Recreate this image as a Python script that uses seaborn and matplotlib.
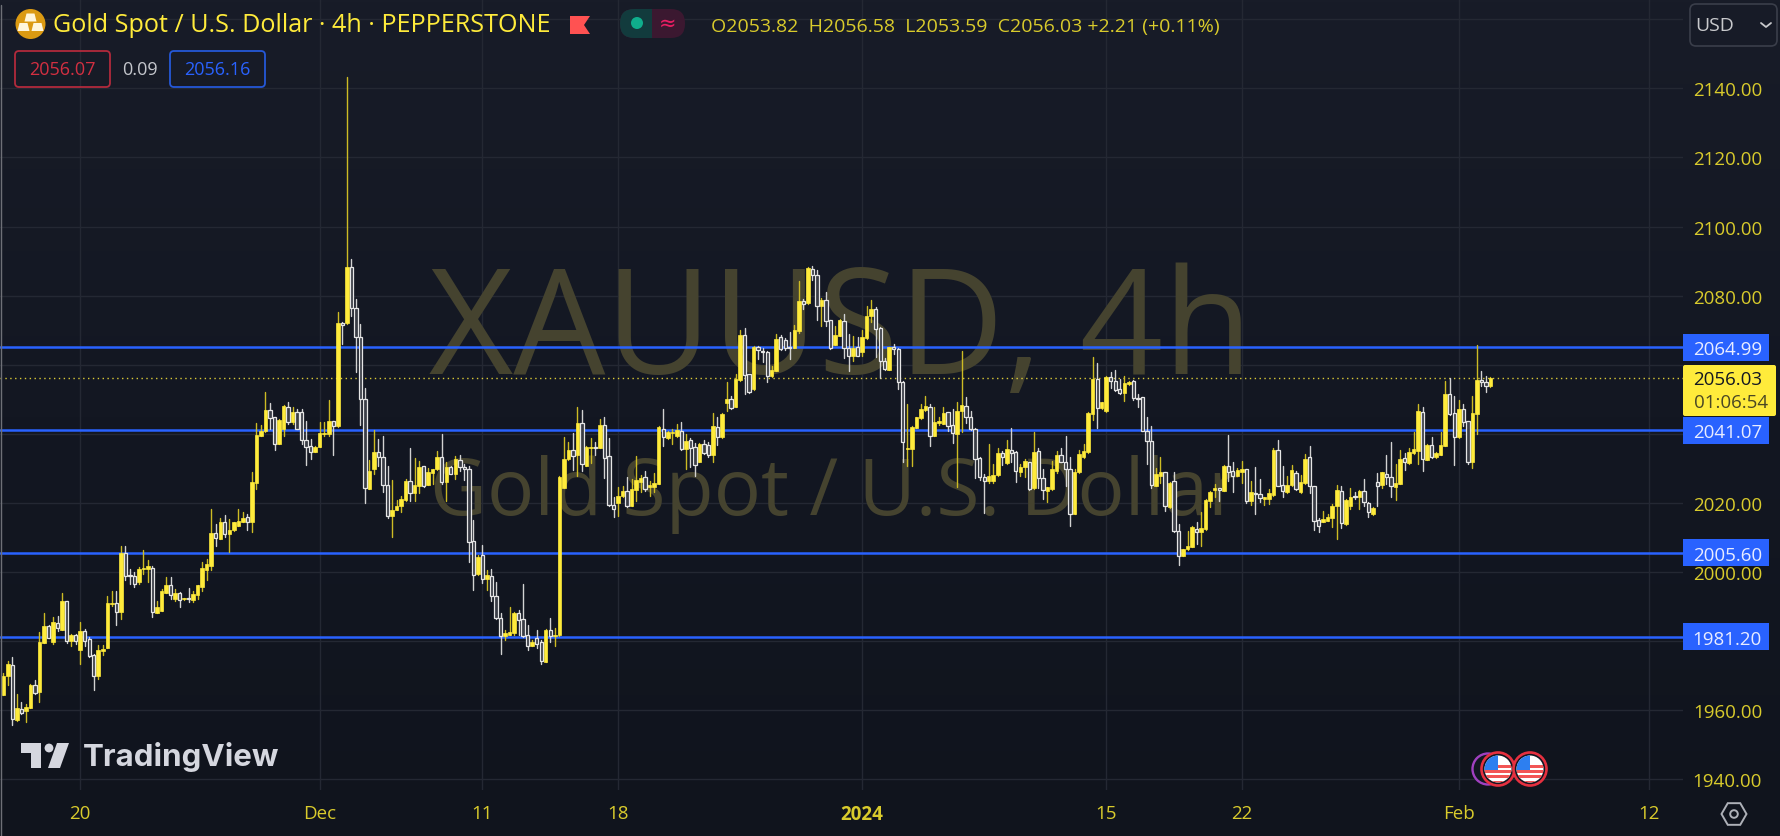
"""
plot.py - XAUUSD 4h candlestick chart, TradingView dark look
"""
import numpy as np
import pandas as pd
import matplotlib
matplotlib.use("Agg")
import matplotlib.pyplot as plt
import seaborn as sns
from matplotlib.patches import Circle, FancyBboxPatch, Polygon, Rectangle, RegularPolygon

# U = up (yellow, filled), D = down (white, hollow)
directions = (
    "UUDUDUUDUU" "DUDUDUDUDD" "DUUUUDUDDD" "UUUDUUUDUD" "UDUUUUUDUD"
    "UUUUDUUUUD" "DUUDUDDDDU" "UUUDUDUDDD" "DUUDDDUUUU" "DUUDUUUDUD"
    "UDDDDUDUDD" "DUUUDDDUDD" "UDUUUUDUDU" "UDUDDDUUDU" "UUDUUUDUUU"
    "DUDDUDDUDU" "UDUUDDUDDD" "UUDDDUUDUD" "DUDDUUDDUD" "UUUDDDUDDD"
    "UUUUUDUUUD" "DUUDDDDDUU" "UDUDDUUDUD" "DUUUDDDUUU" "UUDUUDDDUU"
    "DDDDDUUDUD" "DUUUDUUUUD" "UDDUUDUDDU" "UUDDUUDUUD" "DDUUUUDUUD"
    "UDDUDUDDUU" "DUUUDUDUUU" "DDUDDUUDDU"
)

highs = [
    1970.8, 1974.1, 1975.3, 1964.7, 1962.3, 1961.8, 1967.6, 1968.8, 1982.6, 1988.0,
    1984.7, 1986.9, 1987.4, 1993.8, 1991.7, 1982.1, 1982.1, 1985.4, 1983.5, 1981.1,
    1976.3, 1978.9, 1978.9, 1993.0, 1994.4, 1994.4, 2007.6, 2007.6, 2000.9, 2000.0,
    2001.4, 2006.5, 2003.5, 2001.8, 1991.7, 1995.1, 1998.5, 1998.5, 1995.1, 1994.1,
    1992.6, 1995.3, 1994.4, 1996.3, 2003.0, 2003.8, 2018.3, 2013.9, 2015.5, 2016.6,
    2015.4, 2014.6, 2018.3, 2017.3, 2016.8, 2028.9, 2043.0, 2042.6, 2052.0, 2048.9,
    2044.8, 2044.3, 2048.3, 2049.3, 2047.7, 2047.2, 2047.2, 2043.8, 2038.5, 2036.6,
    2043.3, 2043.3, 2049.9, 2043.8, 2075.3, 2072.4, 2143.2, 2090.5, 2079.0, 2071.9,
    2053.2, 2032.3, 2041.2, 2038.4, 2039.5, 2030.8, 2026.6, 2020.9, 2022.0, 2027.0,
    2035.8, 2033.1, 2032.0, 2030.8, 2030.0, 2029.9, 2035.0, 2040.0, 2031.8, 2030.8,
    2033.5, 2034.0, 2031.2, 2030.8, 2015.1, 2004.8, 2007.7, 2000.6, 2000.8, 1997.1,
    1988.2, 1983.1, 1990.0, 1988.5, 1989.1, 1996.6, 1984.6, 1980.2, 1983.1, 1980.2,
    1983.4, 1986.7, 1983.9, 2027.7, 2039.2, 2037.5, 2040.3, 2047.8, 2046.9, 2036.6,
    2038.9, 2037.7, 2044.4, 2044.8, 2038.8, 2021.6, 2024.5, 2024.8, 2027.4, 2026.9,
    2033.7, 2028.1, 2029.3, 2026.4, 2028.7, 2042.2, 2047.2, 2040.9, 2041.4, 2042.8,
    2043.3, 2039.9, 2038.8, 2037.3, 2037.3, 2038.2, 2037.5, 2046.0, 2045.0, 2045.9,
    2055.1, 2051.0, 2057.3, 2070.1, 2070.5, 2057.3, 2065.3, 2065.3, 2064.7, 2064.0,
    2059.7, 2068.9, 2068.6, 2067.6, 2069.4, 2071.5, 2084.3, 2079.0, 2088.2, 2088.7,
    2087.5, 2079.2, 2080.9, 2072.9, 2071.1, 2073.2, 2074.7, 2068.9, 2068.2, 2067.9,
    2070.1, 2076.9, 2078.8, 2076.6, 2070.8, 2061.9, 2065.2, 2066.0, 2064.7, 2055.4,
    2048.6, 2042.4, 2044.9, 2048.6, 2050.8, 2048.6, 2047.8, 2044.8, 2047.8, 2046.4,
    2047.2, 2049.1, 2064.0, 2050.6, 2046.7, 2041.6, 2033.2, 2028.4, 2037.0, 2031.3,
    2035.8, 2035.1, 2038.3, 2041.8, 2035.1, 2031.2, 2032.7, 2031.9, 2040.4, 2035.8,
    2029.8, 2024.7, 2032.2, 2035.1, 2035.9, 2039.5, 2033.2, 2029.8, 2035.4, 2037.0,
    2046.2, 2062.3, 2060.4, 2049.3, 2056.6, 2058.0, 2058.5, 2055.9, 2056.6, 2055.4,
    2055.6, 2051.5, 2050.7, 2044.8, 2042.2, 2030.0, 2033.2, 2029.0, 2026.1, 2029.0,
    2013.9, 2006.8, 2012.0, 2013.2, 2014.4, 2017.3, 2021.1, 2023.3, 2025.5, 2024.2,
    2031.0, 2039.6, 2031.7, 2030.0, 2032.0, 2029.8, 2026.4, 2030.3, 2026.9, 2021.8,
    2024.0, 2035.8, 2038.2, 2030.6, 2027.9, 2031.0, 2029.3, 2028.1, 2034.1, 2036.6,
    2025.0, 2015.5, 2017.7, 2016.8, 2019.7, 2025.3, 2025.0, 2021.1, 2024.2, 2023.2,
    2023.7, 2026.9, 2020.2, 2018.9, 2028.6, 2029.0, 2034.0, 2037.7, 2031.4, 2035.4,
    2034.4, 2035.9, 2040.4, 2048.6, 2047.9, 2037.0, 2039.0, 2034.6, 2040.4, 2055.4,
    2056.1, 2051.0, 2049.8, 2048.6, 2043.8, 2051.0, 2065.7, 2058.1, 2056.8, 2056.58,
]

body_high = [
    1970.0, 1973.4, 1973.2, 1960.6, 1960.4, 1960.8, 1967.4, 1967.3, 1979.7, 1984.3,
    1984.3, 1985.4, 1985.3, 1991.7, 1991.7, 1981.8, 1981.8, 1983.0, 1982.8, 1980.6,
    1976.0, 1977.5, 1977.7, 1991.0, 1991.0, 1991.0, 2005.4, 2005.4, 1999.1, 1998.8,
    2000.9, 2001.2, 2001.8, 2001.2, 1990.0, 1994.6, 1996.3, 1996.3, 1993.9, 1993.9,
    1992.4, 1992.4, 1993.6, 1996.1, 2001.2, 2002.2, 2011.3, 2011.3, 2014.4, 2014.4,
    2012.3, 2014.4, 2014.9, 2015.5, 2015.8, 2026.0, 2039.7, 2040.9, 2047.0, 2047.0,
    2044.8, 2044.1, 2048.0, 2047.7, 2046.2, 2046.2, 2046.2, 2038.3, 2036.6, 2036.1,
    2040.2, 2040.2, 2043.8, 2043.8, 2072.1, 2072.1, 2088.2, 2088.2, 2076.4, 2068.1,
    2050.1, 2029.1, 2034.6, 2034.6, 2033.4, 2025.2, 2018.0, 2019.2, 2021.1, 2026.4,
    2026.4, 2025.2, 2030.4, 2030.6, 2028.9, 2029.7, 2033.4, 2033.4, 2030.4, 2030.4,
    2032.6, 2032.3, 2030.4, 2029.7, 2008.9, 2004.3, 2004.8, 1999.1, 1998.9, 1993.0,
    1986.7, 1982.3, 1982.5, 1988.0, 1988.0, 1986.5, 1981.7, 1979.8, 1980.8, 1979.6,
    1983.3, 1983.1, 1981.9, 2027.6, 2032.7, 2035.4, 2035.4, 2043.0, 2043.2, 2036.3,
    2036.1, 2036.1, 2042.6, 2042.5, 2033.5, 2019.5, 2021.9, 2023.3, 2023.3, 2024.0,
    2026.5, 2027.2, 2027.4, 2025.2, 2025.7, 2041.9, 2041.4, 2040.4, 2040.6, 2041.1,
    2040.9, 2038.0, 2038.2, 2036.3, 2037.0, 2037.0, 2036.9, 2042.2, 2041.9, 2045.7,
    2050.1, 2050.1, 2055.9, 2068.7, 2068.6, 2057.3, 2065.0, 2065.0, 2064.0, 2063.8,
    2058.5, 2067.4, 2068.1, 2067.1, 2065.2, 2070.1, 2078.3, 2078.5, 2087.9, 2087.7,
    2086.0, 2078.7, 2078.7, 2072.9, 2068.6, 2072.9, 2072.7, 2064.7, 2064.8, 2065.2,
    2067.9, 2074.2, 2076.1, 2076.1, 2070.5, 2061.0, 2065.0, 2065.0, 2064.5, 2055.1,
    2035.8, 2041.9, 2044.8, 2047.2, 2048.0, 2047.8, 2043.3, 2043.8, 2045.9, 2046.2,
    2042.5, 2046.7, 2048.3, 2048.1, 2044.9, 2041.4, 2032.9, 2027.6, 2027.7, 2028.1,
    2034.3, 2034.4, 2035.6, 2035.4, 2034.6, 2030.3, 2032.2, 2031.7, 2034.6, 2035.1,
    2027.2, 2024.5, 2029.8, 2034.0, 2033.9, 2031.9, 2029.8, 2028.8, 2034.2, 2034.9,
    2046.0, 2055.9, 2055.9, 2049.1, 2056.5, 2056.3, 2055.4, 2053.0, 2054.7, 2054.9,
    2055.4, 2050.3, 2050.6, 2040.9, 2038.0, 2028.4, 2029.0, 2029.0, 2025.9, 2026.2,
    2012.0, 2006.7, 2007.4, 2012.9, 2012.4, 2012.7, 2020.8, 2023.1, 2024.2, 2024.2,
    2030.8, 2030.6, 2029.3, 2029.5, 2029.8, 2029.7, 2023.1, 2022.9, 2022.6, 2021.6,
    2022.9, 2035.3, 2035.4, 2025.2, 2025.2, 2029.5, 2028.6, 2026.1, 2032.7, 2033.2,
    2025.0, 2015.0, 2015.3, 2015.8, 2019.2, 2023.7, 2023.3, 2020.8, 2021.8, 2022.1,
    2023.5, 2023.3, 2020.0, 2018.5, 2026.0, 2028.8, 2028.5, 2027.4, 2025.9, 2032.7,
    2033.0, 2034.6, 2035.6, 2046.7, 2046.2, 2036.8, 2036.8, 2034.3, 2036.8, 2051.5,
    2051.5, 2045.9, 2047.2, 2047.2, 2043.6, 2045.9, 2055.7, 2055.7, 2054.9, 2056.03,
]

body_low = [
    1964.4, 1970.0, 1957.5, 1957.2, 1959.2, 1959.9, 1960.6, 1965.0, 1965.2, 1979.5,
    1981.0, 1979.7, 1983.7, 1983.3, 1980.1, 1980.1, 1980.1, 1977.5, 1980.1, 1975.6,
    1970.0, 1970.0, 1977.2, 1977.9, 1990.7, 1988.5, 1988.5, 1998.8, 1998.8, 1996.5,
    1997.0, 2000.9, 2000.9, 1988.3, 1988.2, 1988.8, 1993.9, 1993.4, 1992.2, 1992.0,
    1992.1, 1992.1, 1991.9, 1993.4, 1995.6, 2000.7, 2001.7, 2009.8, 2009.6, 2011.0,
    2011.0, 2012.3, 2013.4, 2014.6, 2014.6, 2014.6, 2025.8, 2039.3, 2040.9, 2044.5,
    2037.0, 2037.0, 2041.4, 2043.5, 2043.3, 2041.4, 2038.3, 2036.3, 2034.8, 2034.8,
    2036.1, 2040.0, 2040.0, 2042.4, 2042.3, 2071.6, 2072.1, 2076.4, 2068.1, 2050.1,
    2024.3, 2024.1, 2029.8, 2033.4, 2025.2, 2016.3, 2016.3, 2017.8, 2019.2, 2020.9,
    2022.9, 2022.8, 2024.9, 2024.9, 2025.1, 2028.7, 2029.7, 2026.0, 2026.0, 2028.5,
    2028.3, 2030.4, 2029.7, 2008.6, 1999.1, 1999.3, 1998.0, 1998.0, 1993.0, 1986.7,
    1981.4, 1981.4, 1981.9, 1982.3, 1986.2, 1981.6, 1978.5, 1978.6, 1979.3, 1974.2,
    1974.0, 1981.6, 1981.6, 1981.7, 2024.3, 2032.7, 2033.7, 2033.8, 2031.2, 2030.6,
    2035.8, 2035.8, 2035.8, 2033.0, 2019.5, 2018.2, 2020.0, 2021.9, 2019.0, 2019.0,
    2023.8, 2026.0, 2024.0, 2024.5, 2024.5, 2025.5, 2039.0, 2038.7, 2040.2, 2039.4,
    2035.6, 2035.6, 2035.9, 2031.0, 2031.9, 2034.4, 2034.0, 2033.9, 2039.2, 2039.0,
    2048.8, 2047.5, 2047.7, 2055.7, 2057.1, 2052.2, 2053.0, 2064.2, 2063.6, 2056.8,
    2056.6, 2058.3, 2064.5, 2064.8, 2064.8, 2064.7, 2069.8, 2077.6, 2077.8, 2086.0,
    2077.1, 2077.1, 2072.7, 2064.8, 2065.8, 2068.4, 2064.7, 2062.6, 2062.6, 2062.6,
    2063.8, 2067.6, 2074.0, 2070.3, 2061.2, 2058.8, 2058.6, 2064.5, 2054.9, 2037.5,
    2035.6, 2035.6, 2041.8, 2044.5, 2046.9, 2039.4, 2039.4, 2043.1, 2042.8, 2042.4,
    2040.1, 2039.9, 2046.7, 2045.0, 2041.4, 2032.7, 2027.4, 2026.3, 2026.3, 2026.2,
    2028.2, 2033.2, 2031.5, 2034.4, 2029.1, 2029.0, 2030.3, 2024.0, 2024.2, 2027.2,
    2023.7, 2023.5, 2024.0, 2029.3, 2031.9, 2029.8, 2016.8, 2016.8, 2028.8, 2033.2,
    2034.6, 2045.7, 2047.4, 2047.4, 2046.7, 2055.4, 2052.8, 2051.7, 2051.8, 2054.4,
    2050.3, 2050.1, 2040.9, 2038.0, 2025.2, 2025.0, 2027.7, 2019.0, 2018.7, 2011.9,
    2004.7, 2004.7, 2006.7, 2007.1, 2011.5, 2011.5, 2012.4, 2020.6, 2023.8, 2023.8,
    2023.3, 2029.0, 2027.7, 2027.7, 2028.8, 2020.6, 2020.6, 2022.7, 2021.3, 2021.1,
    2021.1, 2022.4, 2025.0, 2023.3, 2023.1, 2025.2, 2024.0, 2023.2, 2025.8, 2024.8,
    2014.9, 2013.4, 2014.4, 2014.9, 2015.5, 2019.0, 2014.1, 2013.9, 2019.2, 2021.6,
    2021.6, 2020.2, 2017.3, 2016.8, 2025.0, 2025.2, 2027.4, 2024.8, 2024.7, 2025.6,
    2031.7, 2031.5, 2034.3, 2035.1, 2032.7, 2032.5, 2033.2, 2033.2, 2034.0, 2036.6,
    2045.7, 2039.0, 2039.0, 2043.5, 2031.7, 2031.7, 2045.7, 2054.9, 2053.9, 2053.82,
]

lows = [
    1964.4, 1967.3, 1955.7, 1957.0, 1958.9, 1956.7, 1960.5, 1964.7, 1962.5, 1979.5,
    1980.8, 1979.2, 1982.8, 1983.3, 1979.5, 1978.7, 1979.2, 1973.4, 1978.7, 1975.3,
    1965.9, 1968.9, 1976.0, 1977.9, 1990.1, 1984.8, 1986.4, 1997.8, 1996.5, 1995.6,
    1996.5, 1999.4, 1997.0, 1986.9, 1988.2, 1988.8, 1993.9, 1992.2, 1991.7, 1990.0,
    1991.9, 1991.4, 1991.4, 1992.2, 1994.6, 1997.7, 2000.6, 2007.6, 2009.6, 2010.0,
    2005.9, 2012.0, 2013.2, 2014.4, 2012.3, 2011.5, 2024.0, 2039.3, 2040.4, 2041.4,
    2035.4, 2037.0, 2039.5, 2042.8, 2042.8, 2041.4, 2037.0, 2031.0, 2032.7, 2034.8,
    2036.1, 2039.5, 2039.3, 2033.9, 2042.1, 2065.9, 2071.9, 2074.1, 2057.9, 2042.6,
    2020.1, 2024.1, 2028.3, 2030.6, 2023.2, 2015.7, 2010.0, 2017.8, 2017.4, 2020.5,
    2020.5, 2020.5, 2022.8, 2024.7, 2025.1, 2025.5, 2029.5, 2025.5, 2020.5, 2028.3,
    2026.9, 2029.2, 2026.6, 2002.9, 1994.9, 1999.1, 1996.8, 1994.9, 1991.7, 1986.5,
    1976.2, 1980.4, 1981.9, 1981.9, 1981.9, 1981.1, 1977.3, 1978.5, 1977.9, 1973.3,
    1973.9, 1979.6, 1978.5, 1981.6, 2024.3, 2032.3, 2029.5, 2027.7, 2029.2, 2030.6,
    2031.5, 2034.0, 2035.8, 2027.2, 2019.2, 2016.0, 2016.3, 2021.6, 2018.9, 2019.0,
    2020.6, 2023.1, 2023.3, 2022.1, 2023.1, 2025.5, 2036.6, 2038.5, 2037.0, 2039.0,
    2035.4, 2029.8, 2030.3, 2027.7, 2031.7, 2034.2, 2033.2, 2031.7, 2036.8, 2038.8,
    2046.7, 2047.2, 2047.7, 2055.4, 2051.5, 2051.7, 2052.8, 2061.6, 2060.9, 2054.9,
    2056.3, 2058.1, 2064.2, 2064.2, 2061.6, 2064.7, 2069.1, 2076.1, 2077.6, 2084.6,
    2072.9, 2071.3, 2071.3, 2064.5, 2065.7, 2068.2, 2061.8, 2058.2, 2061.2, 2062.6,
    2062.4, 2067.4, 2072.3, 2062.1, 2056.1, 2058.6, 2058.6, 2063.1, 2053.0, 2031.9,
    2030.8, 2030.8, 2041.6, 2044.3, 2046.7, 2036.4, 2039.3, 2042.5, 2042.8, 2040.7,
    2037.3, 2024.5, 2040.4, 2043.0, 2041.2, 2027.1, 2026.7, 2017.1, 2025.9, 2025.9,
    2027.9, 2031.0, 2031.2, 2031.7, 2026.1, 2027.9, 2027.4, 2023.8, 2024.0, 2024.3,
    2021.1, 2020.4, 2023.8, 2028.6, 2031.7, 2025.0, 2013.2, 2016.8, 2028.6, 2032.9,
    2034.4, 2044.1, 2041.6, 2047.2, 2046.2, 2053.2, 2052.5, 2051.5, 2049.4, 2054.1,
    2049.9, 2047.7, 2040.9, 2031.4, 2024.2, 2024.8, 2025.8, 2017.7, 2018.4, 2011.5,
    2002.0, 2004.5, 2006.5, 2007.1, 2008.1, 2007.4, 2012.2, 2018.7, 2021.6, 2020.6,
    2023.3, 2026.4, 2023.1, 2027.7, 2025.8, 2020.0, 2019.4, 2016.7, 2020.2, 2019.4,
    2019.7, 2022.1, 2025.0, 2021.6, 2022.9, 2025.0, 2023.8, 2023.0, 2025.5, 2022.9,
    2012.2, 2011.5, 2014.4, 2014.7, 2012.9, 2009.5, 2012.6, 2013.7, 2018.2, 2021.1,
    2018.2, 2019.2, 2015.9, 2016.5, 2019.2, 2024.2, 2025.5, 2021.6, 2020.8, 2025.5,
    2029.5, 2031.2, 2034.2, 2031.4, 2029.1, 2032.4, 2032.9, 2033.0, 2033.9, 2036.4,
    2045.5, 2031.0, 2038.8, 2042.2, 2031.2, 2030.2, 2040.0, 2053.7, 2052.0, 2053.59,
]

levels = [2064.99, 2041.07, 2005.60, 1981.20]
last_price = 2056.03

# 2060, 2040 and 1980 sit under the price tags, so they get no text
price_ticks = [2160, 2140, 2120, 2100, 2080, 2060, 2040, 2020, 2000, 1980, 1960, 1940]
price_labels = ["", "2140.00", "2120.00", "2100.00", "2080.00", "", "",
                "2020.00", "2000.00", "", "1960.00", "1940.00"]
date_ticks = [17, 70, 106, 136, 190, 244, 274, 322, 364]
date_labels = ["20", "Dec", "11", "18", "2024", "15", "22", "Feb", "12"]

W, H = 1781, 837
PANE_W, PANE_H = 1683, 791
YELLOW = "#FFEB3B"
AXIS_YELLOW = "#D9CB2C"
BLUE = "#2962FF"
WHITE = "#E6E6E6"

sns.set_theme(style="dark", rc={"axes.facecolor": "none", "figure.facecolor": "#131722"})
plt.rcParams["font.family"] = ["Open Sans", "DejaVu Sans"]

df = pd.DataFrame({"high": highs, "body_high": body_high, "body_low": body_low, "low": lows})
df["bar"] = np.arange(len(df))
df["direction"] = list(directions)
up = df[df["direction"] == "U"]
down = df[df["direction"] == "D"]
wicks = df.melt(id_vars=["bar", "direction"], value_vars=["high", "low"], value_name="price")

fig = plt.figure(figsize=(W / 100, H / 100), dpi=100)

# slightly graded background like the TradingView pane
bg = fig.add_axes([0, 0, 1, 1], zorder=0)
bg.imshow(np.linspace(0, 1, 256).reshape(-1, 1), aspect="auto", cmap=matplotlib.colors.LinearSegmentedColormap.from_list(
    "pane", ["#181C28", "#131722", "#10141D"]))
bg.axis("off")

ax = fig.add_axes([0, 1 - PANE_H / H, PANE_W / W, PANE_H / H], zorder=1)

# watermark
ax.text(841 / W, 1 - 374 / H, "XAUUSD, 4h", transform=fig.transFigure, fontsize=105, color="#45432F",
        ha="center", va="baseline", zorder=0.6, family="Open Sans")
ax.text(835 / W, 1 - 515 / H, "Gold Spot / U.S. Dollar", transform=fig.transFigure, fontsize=56.5, color="#45432F",
        ha="center", va="baseline", zorder=0.6, family="Open Sans")

for level in levels:
    ax.axhline(level, color=BLUE, lw=1.8, zorder=1)
ax.axhline(last_price, color=YELLOW, lw=1, ls=(0, (1, 2.5)), alpha=0.85, zorder=1)

sns.lineplot(data=wicks, x="bar", y="price", units="bar", hue="direction", estimator=None, sort=False,
             palette={"U": "#CDBB24", "D": "#D2D2D2"}, linewidth=1.0, legend=False, ax=ax, zorder=2)
ax.bar(up["bar"], up["body_high"] - up["body_low"], bottom=up["body_low"], width=0.78,
       color=YELLOW, edgecolor=YELLOW, linewidth=0.5, zorder=3)
ax.bar(down["bar"], down["body_high"] - down["body_low"], bottom=down["body_low"], width=0.74,
       color="#3A3D46", edgecolor=WHITE, linewidth=0.9, zorder=3)

ax.set_xlim(-0.73, 371.6)
ax.set_ylim(1936.9, 2165.85)
ax.set_xlabel("")
ax.set_ylabel("")
ax.set_xticks(date_ticks, date_labels)
ax.set_yticks(price_ticks, price_labels)
ax.yaxis.tick_right()
ax.tick_params(axis="y", length=0, pad=57, labelsize=13.5, labelcolor=AXIS_YELLOW)
ax.tick_params(axis="x", length=0, pad=10, labelsize=13.5, labelcolor=AXIS_YELLOW)
for label in ax.get_yticklabels():
    label.set_ha("right")
ax.get_xticklabels()[4].set_fontweight("bold")
ax.grid(True, color="#242833", lw=1)
ax.set_axisbelow(True)
sns.despine(ax=ax, left=True, bottom=True)

# price tags on the scale
scale = ax.get_yaxis_transform()
for level in levels:
    ax.add_patch(Rectangle((1.0, level - 3.9), 86 / PANE_W, 7.8, transform=scale, clip_on=False,
                           fc=BLUE, ec="none", zorder=5))
    ax.text(1762 / PANE_W, level, f"{level:.2f}", transform=scale, ha="right", va="center_baseline",
            fontsize=13.5, color="#E8ECFF", zorder=6)

# everything else sits in an overlay measured in pixels
ui = fig.add_axes([0, 0, 1, 1], zorder=2)
ui.set_xlim(0, W)
ui.set_ylim(H, 0)
ui.axis("off")

ui.plot([0.7, 0.7], [6, H], color="#6E7077", lw=1)

# gold icon
ui.add_patch(Circle((30.5, 25), 15, fc="#DB9A12", ec="none"))
for x0, y0 in [(24.5, 14.5), (17.5, 24), (31.5, 24)]:
    ui.add_patch(Polygon([(x0 + 2, y0), (x0 + 10, y0), (x0 + 12, y0 + 8), (x0, y0 + 8)], fc="#FFF6DC", ec="none"))

ui.text(53, 25, "Gold Spot / U.S. Dollar · 4h · PEPPERSTONE", fontsize=18.1, color=YELLOW,
        ha="left", va="center", family="Open Sans")
ui.add_patch(Polygon([(570, 17), (590, 17), (584, 26), (590, 35), (570, 35)], fc="#FF5252", ec="none"))

# spread boxes
ui.add_patch(FancyBboxPatch((15, 52), 95, 36, boxstyle="round,pad=0,rounding_size=4", fc="none", ec="#B22A3C", lw=1.3))
ui.text(62, 70, "2056.07", fontsize=13, color="#D32F41", ha="center", va="center")
ui.text(140, 70, "0.09", fontsize=13, color="#C4C6CC", ha="center", va="center")
ui.add_patch(FancyBboxPatch((170, 52), 95, 36, boxstyle="round,pad=0,rounding_size=4", fc="none", ec="#2558D8", lw=1.3))
ui.text(217, 70, "2056.16", fontsize=13, color="#2962FF", ha="center", va="center")

# status pill, green half clipped at the split
ui.add_patch(FancyBboxPatch((620, 10), 65, 29, boxstyle="round,pad=0,rounding_size=14", fc="#3B1830", ec="none"))
green_half = FancyBboxPatch((620, 10), 65, 29, boxstyle="round,pad=0,rounding_size=14", fc="#123B3D", ec="none")
ui.add_patch(green_half)
green_half.set_clip_path(Rectangle((620, 10), 32, 29, transform=ui.transData))
ui.add_patch(Circle((637, 24), 6, fc="#0FAE8C", ec="none"))
ui.text(668, 24, "≈", fontsize=15, color="#E91E63", ha="center", va="center", family="DejaVu Sans")

ui.text(711, 27, "O2053.82  H2056.58  L2053.59  C2056.03 +2.21 (+0.11%)", fontsize=14, color=AXIS_YELLOW,
        ha="left", va="center")

# currency button
ui.add_patch(FancyBboxPatch((1690, 5), 87, 42, boxstyle="round,pad=0,rounding_size=6", fc="none", ec="#3A3E4A", lw=1.2))
ui.text(1695, 26, "USD", fontsize=14, color="#C8C9CC", ha="left", va="center")
ui.plot([1761, 1766, 1771], [24, 28, 24], color="#C8C9CC", lw=1.3)

# last price tag
ui.add_patch(FancyBboxPatch((1683, 366), 93, 51, boxstyle="round,pad=0,rounding_size=2", fc=YELLOW, ec="none"))
ui.text(1762, 380, "2056.03", fontsize=13.5, color="#131722", ha="right", va="center")
ui.text(1768, 403, "01:06:54", fontsize=13.5, color="#4A4724", ha="right", va="center")


def flag(cx, cy, r=16.5, ring="#E6303F"):
    ui.add_patch(Circle((cx, cy), r, fc="#131722", ec=ring, lw=1.9))
    inner = Circle((cx, cy), r - 3, fc="white", ec="none")
    ui.add_patch(inner)
    for k in range(4):
        stripe = Rectangle((cx - r, cy - 1 + k * 5.2 - 3), 2 * r, 2.8, fc="#F25555", ec="none")
        ui.add_patch(stripe)
        stripe.set_clip_path(inner)
    canton = Rectangle((cx - r, cy - r), r, r + 1, fc="#2D7FF0", ec="none")
    ui.add_patch(canton)
    canton.set_clip_path(inner)


ui.add_patch(Circle((1488, 770), 15.5, fc="#131722", ec="#A040C0", lw=1.7))
flag(1498, 770)
flag(1530, 770)

# settings hexagon
ui.add_patch(RegularPolygon((1734, 815), 6, radius=12.5, orientation=np.pi / 2, fc="none", ec="#AEB1B8", lw=1.4))
ui.add_patch(Circle((1734, 815), 3.8, fc="none", ec="#AEB1B8", lw=1.4))

# TradingView logo
logo = "#D5D7DF"
ui.add_patch(Polygon([(21, 744), (41, 744), (41, 769), (31, 769), (31, 754), (21, 754)], fc=logo, ec="none"))
ui.add_patch(Circle((49, 749), 4.4, fc=logo, ec="none"))
ui.add_patch(Polygon([(57, 744), (69, 744), (60, 769), (48, 769)], fc=logo, ec="none"))
ui.text(83, 757, "TradingView", fontsize=22.5, fontweight="bold", color=logo, ha="left", va="center", family="Inter")

fig.savefig("out.png", dpi=100, facecolor=fig.get_facecolor())
